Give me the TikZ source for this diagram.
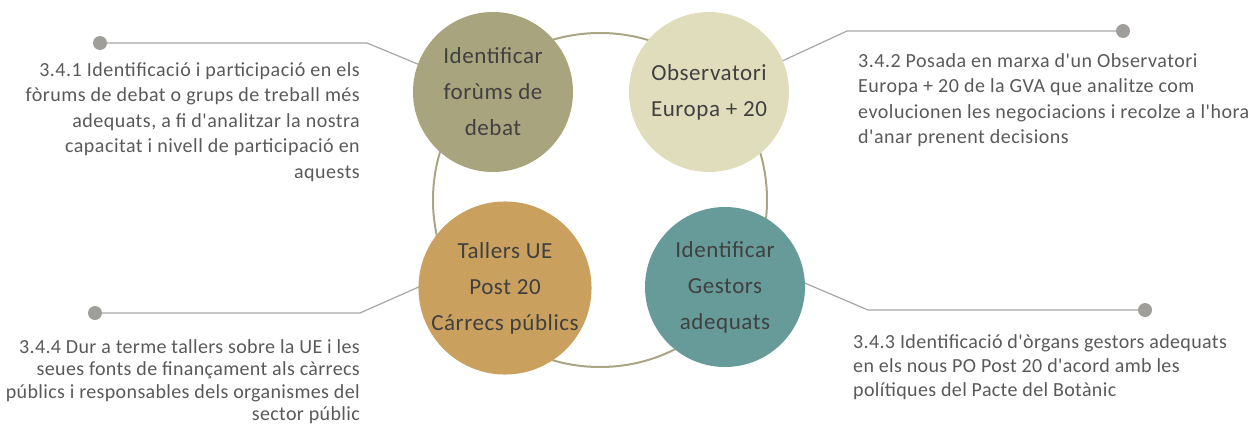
\documentclass[tikz,border=0pt]{standalone}
\usepackage{fontspec}
\setmainfont{Carlito}[Ligatures=TeXOff]
\newfontfamily\descfont{Carlito}[LetterSpace=2.5, Ligatures=TeXOff]
\newfontfamily\descfontb{Carlito}[LetterSpace=1.8, Ligatures=TeXOff]
\definecolor{ringc}{HTML}{A9A585}
\definecolor{c1}{HTML}{A8A47E}
\definecolor{c2}{HTML}{E0DDBC}
\definecolor{c3}{HTML}{C9A05D}
\definecolor{c4}{HTML}{679B99}
\definecolor{linec}{HTML}{A6A6A6}
\definecolor{dotc}{HTML}{9F9E9A}
\definecolor{txtc}{HTML}{595959}
\definecolor{ctxt}{HTML}{404040}
\tikzset{
  bubble/.style={circle, minimum size=160pt, inner sep=0pt, align=center, text=ctxt, font=\descfont\fontsize{23}{36}\selectfont},
  dotnode/.style={circle, fill=dotc, minimum size=14pt, inner sep=0pt},
  conn/.style={draw=linec, line width=1.2pt},
  desc/.style={inner sep=0pt, text=txtc, font=\descfont\fontsize{20}{25.6}\selectfont},
  descb/.style={inner sep=0pt, text=txtc, font=\descfontb\fontsize{20}{24}\selectfont},
  descc/.style={inner sep=0pt, text=txtc, font=\descfontb\fontsize{20}{22.6}\selectfont}
}
\begin{document}
\begin{tikzpicture}[x=1pt,y=-1pt]
\useasboundingbox (0,0) rectangle (1248,426);
% ring
\node[circle, draw=ringc, line width=2pt, minimum size=334pt, inner sep=0pt] (ring) at (600,200) {};
% dots and bends
\node[dotnode] (d1) at (100,43) {};
\node[dotnode] (d2) at (1123,31) {};
\node[dotnode] (d3) at (1145,310) {};
\node[dotnode] (d4) at (95,313) {};
\coordinate (b1) at (367,43);
\coordinate (b2) at (847,31);
\coordinate (b3) at (868,310);
\coordinate (b4) at (360,313);
\coordinate (e1) at (420,65);
\coordinate (e2) at (780,62);
\coordinate (e3) at (800,281);
\coordinate (e4) at (430,282);
\draw[conn] (d1) -- (b1) -- (e1);
\draw[conn] (d2) -- (b2) -- (e2);
\draw[conn] (d3) -- (b3) -- (e3);
\draw[conn] (d4) -- (b4) -- (e4);
% bubbles
\node[bubble, fill=c1] (n1) at (493,92) {Identificar\\forùms de\\debat};
\node[bubble, fill=c2] (n2) at (709,92) {Observatori\\Europa + 20};
\node[bubble, fill=c3] (n3) at (505,288) {Tallers UE\\Post 20\\Cárrecs públics};
\node[bubble, fill=c4] (n4) at (725,287) {Identificar\\Gestors\\adequats};
% descriptions
\node[desc, align=right, anchor=north east] (t1) at (360,62) {3.4.1 Identificació i participació en els\\fòrums de debat o grups de treball més\\adequats, a fi d'analitzar la nostra\\capacitat i nivell de participació en\\aquests};
\node[desc, align=left, anchor=north west] (t2) at (858,53) {3.4.2 Posada en marxa d'un Observatori\\Europa + 20 de la GVA que analitze com\\evolucionen les negociacions i recolze a l'hora\\d'anar prenent decisions};
\node[descb, align=left, anchor=north west] (t3) at (853,334) {3.4.3 Identificació d'òrgans gestors adequats\\en els nous PO Post 20 d'acord amb les\\polítiques del Pacte del Botànic};
\node[descc, align=right, anchor=north east] (t4) at (360,339) {3.4.4 Dur a terme tallers sobre la UE i les\\seues fonts de finançament als càrrecs\\públics i responsables dels organismes del\\sector públic};
\end{tikzpicture}
\end{document}
